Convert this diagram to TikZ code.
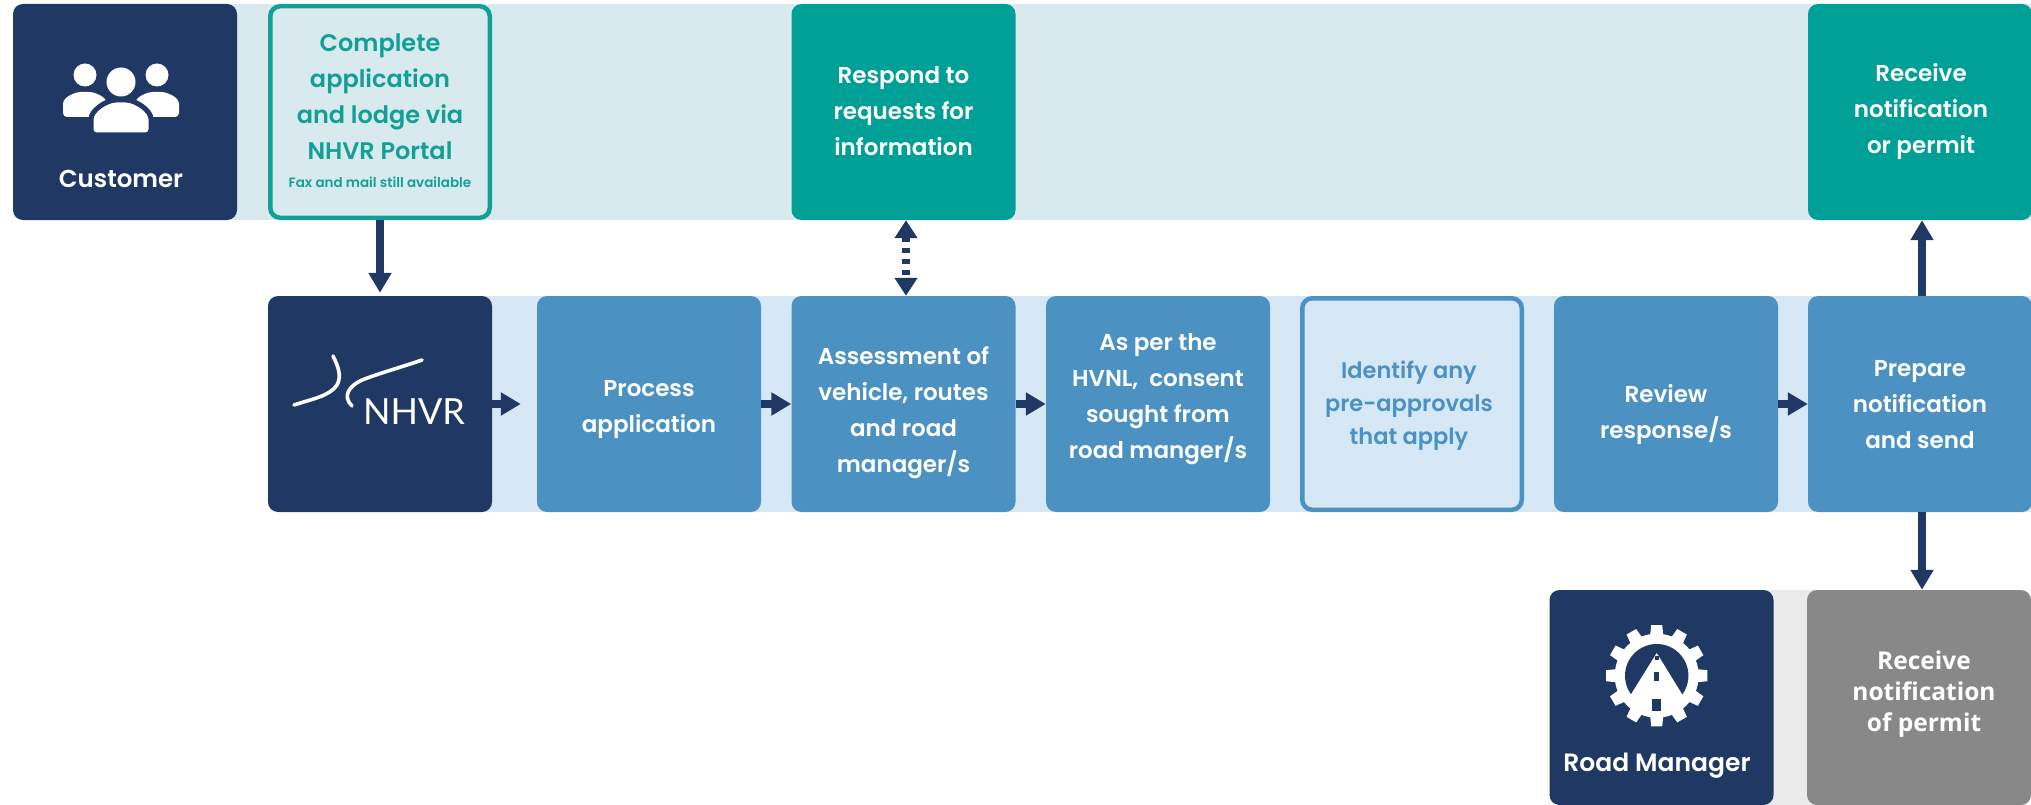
\documentclass[tikz,border=0pt]{standalone}
\usepackage{fontspec}
\setmainfont{Poppins}[UprightFont=* SemiBold,BoldFont=* Bold]
\newfontfamily\graytextfont{Open Sans}
\newfontfamily\logofont{Lato}
\usetikzlibrary{arrows.meta}
\definecolor{navy}{HTML}{1F3864}
\definecolor{midblue}{HTML}{4B92C3}
\definecolor{teal2}{HTML}{00A096}
\definecolor{tealline}{HTML}{12A096}
\definecolor{bandteal}{HTML}{D8EAEE}
\definecolor{bandblue}{HTML}{D6E7F6}
\definecolor{bandgray}{HTML}{EAEAEA}
\definecolor{graybox}{HTML}{888888}
\tikzset{
  x=1pt,y=-1pt,
  band/.style={fill=#1,draw=none},
  tile/.style={rectangle,rounded corners=10pt,inner sep=0pt,minimum width=224pt,minimum height=216pt,fill=#1,draw=none},
  outlined/.style={rectangle,rounded corners=10pt,inner sep=0pt,minimum width=219.5pt,minimum height=211.5pt,draw=#1,line width=4.5pt,fill=none},
  caption/.style={inner sep=0pt,align=center,text=white,font=\fontsize{23}{36}\selectfont},
  flow/.style={draw=navy,line width=8pt,-{Triangle[width=22pt,length=20pt]}},
  flowdash/.style={draw=navy,line width=8pt,dash pattern=on 5pt off 6pt,{Triangle[width=22pt,length=18pt]}-{Triangle[width=22pt,length=18pt]}},
  icon/.style={fill=white,draw=none},
}
\begin{document}
\begin{tikzpicture}
\useasboundingbox (0,0) rectangle (2031,805);
% bands
\fill[band=bandteal] (200,4) rectangle (2031,220);
\fill[band=bandblue] (400,296) rectangle (2031,512);
\fill[band=bandgray] (1700,590) rectangle (1900,805);
% row 1
\node[tile=navy] (customer) at (125,112) {};
\node[outlined=tealline] (complete) at (380,112) {};
\node[tile=teal2] (respond) at (903.5,112) {};
\node[tile=teal2] (receive) at (1920,112) {};
% row 2
\node[tile=navy] (nhvr) at (380,404) {};
\node[tile=midblue] (process) at (649,404) {};
\node[tile=midblue] (assess) at (903.5,404) {};
\node[tile=midblue] (consent) at (1158,404) {};
\node[outlined=midblue] (identify) at (1412,404) {};
\node[tile=midblue] (review) at (1666,404) {};
\node[tile=midblue] (prepare) at (1920,404) {};
% row 3
\node[tile=navy,minimum height=215pt] (roadmgr) at (1661.5,697.5) {};
\node[tile=graybox,minimum height=215pt] (permit) at (1919,697.5) {};
% texts
\node[caption,font=\fontsize{24.5}{36}\selectfont] (customerText) at (121,179) {Customer};
\node[caption,text=tealline,font=\fontsize{24}{36}\selectfont] (completeText) at (380,110.5) {Complete\\application\\and lodge via\\NHVR Portal\\[-8pt]{\fontsize{13.5}{16}\selectfont Fax and mail still available}};
\node[caption] (respondText) at (903.5,111) {Respond to\\requests for\\information};
\node[caption] (receiveText) at (1921,112) {Receive\\notification\\or permit};
\node[font=\logofont\fontsize{36}{36}\selectfont,text=white,inner sep=0pt,anchor=base] (nhvrText) at (414,424) {NHVR};
\node[caption] (processText) at (649,410) {Process\\application};
\node[caption] (assessText) at (903.5,413) {Assessment of\\vehicle, routes\\and road\\manager/s};
\node[caption] (consentText) at (1158,399) {As per the\\HVNL,\ \ consent\\sought from\\road manger/s};
\node[caption,text=midblue,font=\fontsize{22.5}{33}\selectfont] (identifyText) at (1409,406) {Identify any\\pre-approvals\\that apply};
\node[caption] (reviewText) at (1666,415) {Review\\response/s};
\node[caption] (prepareText) at (1920,405) {Prepare\\notification\\and send};
\node[caption,font=\fontsize{25}{36}\selectfont] (roadmgrText) at (1657,766) {Road Manager};
\node[caption,font=\graytextfont\bfseries\fontsize{24.5}{31}\selectfont] (permitText) at (1924,694) {Receive\\notification\\of permit};
% connectors
\draw[flow,shorten >=3pt] (complete.south) -- (nhvr.north);
\draw[flowdash] ([xshift=2.5pt]respond.south) -- ([xshift=2.5pt]assess.north);
\draw[flow,shorten >=16pt] (nhvr.east) -- (process.west);
\draw[flow] (process.east) -- (assess.west);
\draw[flow] (assess.east) -- (consent.west);
\draw[flow] (review.east) -- (prepare.west);
\draw[flow] ([xshift=2pt]prepare.north) -- ([xshift=2pt]receive.south);
\draw[flow] ([xshift=2pt]prepare.south) -- ([xshift=3pt]permit.north);
% customer icon
\fill[icon] (85,75) circle (11.5);
\fill[icon] (157,75) circle (11.5);
\fill[icon] (121,82) circle (14.5);
\fill[icon,rounded corners=4pt] (63,117) -- (63,108) .. controls (63,97) and (75,92) .. (85,92) .. controls (95,92) and (107,97) .. (107,108) -- (107,117) -- cycle;
\fill[icon,rounded corners=4pt] (179,117) -- (179,108) .. controls (179,97) and (167,92) .. (157,92) .. controls (147,92) and (135,97) .. (135,108) -- (135,117) -- cycle;
\path[fill=white,draw=navy,line width=5pt,rounded corners=5pt] (91,135) -- (91,124) .. controls (91,110) and (107,100) .. (121,100) .. controls (135,100) and (151,110) .. (151,124) -- (151,135) -- cycle;
% NHVR logo
\draw[white,line width=3.6pt,line cap=round] (333,356) .. controls (338,366) and (342,376) .. (337,385) .. controls (330,396) and (312,399) .. (294,405);
\draw[white,line width=3.6pt,line cap=round] (422,360) .. controls (402,367) and (380,373) .. (362,380) .. controls (349,386) and (342,396) .. (352,406);
% road manager gear
\coordinate (gearc) at (1656.7,675.7);
\foreach \a in {0,30,...,330}{
  \fill[icon,rotate around={\a:(gearc)}] (1649.7,640) -- (1651.2,625) -- (1662.2,625) -- (1663.7,640) -- cycle;
}
\fill[icon] (gearc) circle (42);
\fill[navy] (gearc) circle (31.7);
\begin{scope}
  \clip (gearc) circle (33);
  \fill[icon] (1656.7,653) -- (1620,712) -- (1693,712) -- cycle;
\end{scope}
\fill[navy] (1654.7,656) rectangle (1658.7,660);
\fill[navy] (1654.2,672) rectangle (1659.2,681);
\fill[navy] (1652.2,699) rectangle (1661.2,711);
\end{tikzpicture}
\end{document}
